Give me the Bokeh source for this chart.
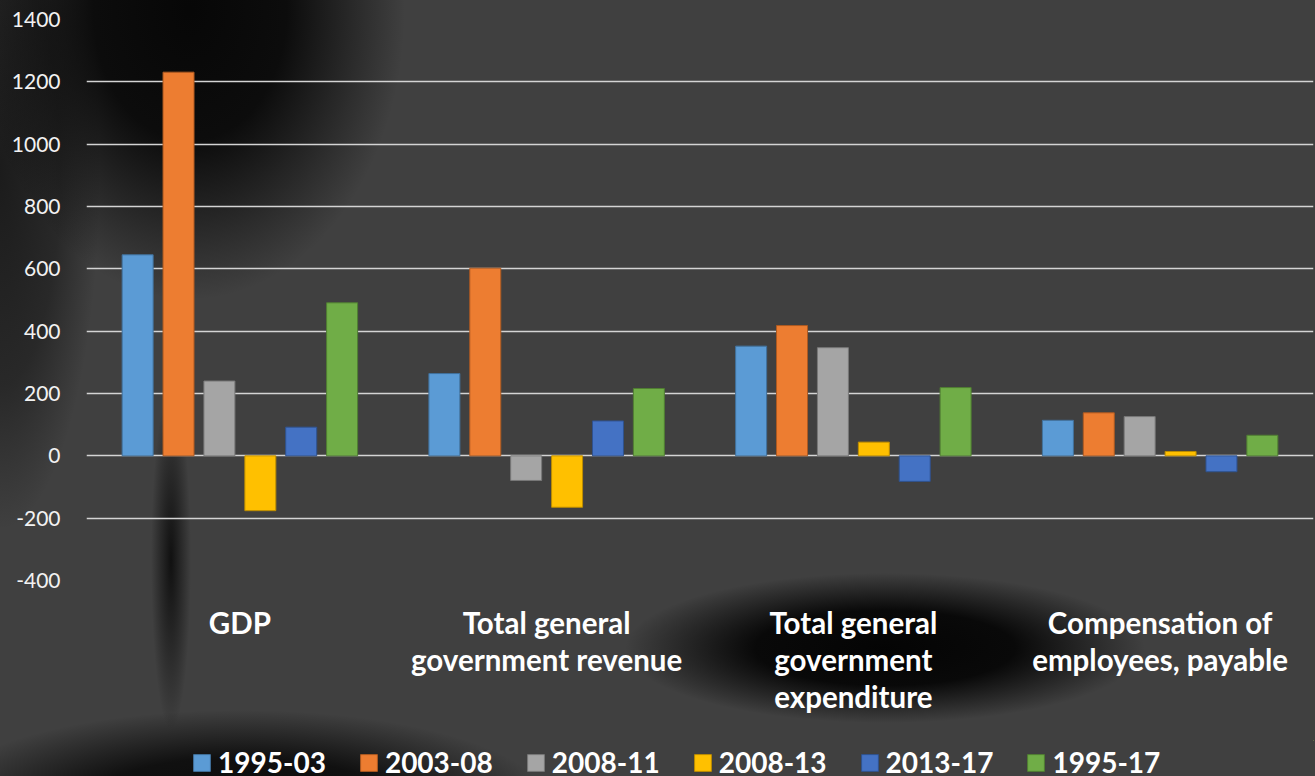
from bokeh.plotting import figure
from bokeh.layouts import column
from bokeh.models import FactorRange, Range1d, FixedTicker, ColumnDataSource, Legend, LegendItem, NumeralTickFormatter
from bokeh.transform import dodge
from bokeh.embed import file_html
from bokeh.resources import INLINE

# Categories on the x axis (wrapped the way they are printed under each group)
categories = [
    "GDP",
    "Total general\ngovernment revenue",
    "Total general\ngovernment\nexpenditure",
    "Compensation of\nemployees, payable",
]

# Periods (one bar per period in every group)
periods = ["1995-03", "2003-08", "2008-11", "2008-13", "2013-17", "1995-17"]

# Change over each period, per category
v_1995_03 = [645, 264, 352, 114]
v_2003_08 = [1231, 602, 418, 138]
v_2008_11 = [240, -79, 347, 126]
v_2008_13 = [-176, -165, 44, 14]
v_2013_17 = [92, 112, -82, -51]
v_1995_17 = [491, 216, 219, 66]

y_ticks = [-400, -200, 0, 200, 400, 600, 800, 1000, 1200, 1400]

series = [v_1995_03, v_2003_08, v_2008_11, v_2008_13, v_2013_17, v_1995_17]
fills = ["#5B9BD5", "#ED7D31", "#A5A5A5", "#FFC000", "#4472C4", "#70AD47"]
edges = ["#41719C", "#AE5A21", "#787878", "#BC8C00", "#2F528F", "#507E32"]

data = {"cat": categories}
for name, vals in zip(periods, series):
    data[name] = vals
source = ColumnDataSource(data)

# soft dark shapes behind the chart
backdrop = ", ".join([
    "radial-gradient(ellipse 215px 290px at 190px 10px, rgba(5,5,5,0.97) 0%, rgba(5,5,5,0.88) 45%, rgba(5,5,5,0) 100%)",
    "radial-gradient(ellipse 100px 360px at 0px 170px, rgba(12,12,12,0.7) 0%, rgba(12,12,12,0.45) 60%, rgba(12,12,12,0) 100%)",
    "radial-gradient(ellipse 20px 170px at 171px 560px, rgba(8,8,8,0.85) 0%, rgba(8,8,8,0) 100%)",
    "radial-gradient(ellipse 260px 75px at 885px 648px, rgba(3,3,3,0.98) 0%, rgba(3,3,3,0.9) 50%, rgba(3,3,3,0) 100%)",
    "radial-gradient(ellipse 310px 95px at 240px 805px, rgba(8,8,8,0.95) 0%, rgba(8,8,8,0.85) 50%, rgba(8,8,8,0) 100%)",
    "#404040",
])

p = figure(
    width=1315, height=740,
    x_range=FactorRange(*categories, range_padding=0),
    y_range=Range1d(-400, 1400),
    output_backend="svg", toolbar_location=None, tools="",
    min_border_left=86, min_border_right=2, min_border_top=19, min_border_bottom=160,
)
p.border_fill_color = None
p.background_fill_color = None
p.outline_line_color = None

offsets = [-0.3333, -0.2, -0.0667, 0.0667, 0.2, 0.3333]
for name, off, fc, ec in zip(periods, offsets, fills, edges):
    p.vbar(x=dodge("cat", off, range=p.x_range), top=name, bottom=0, width=0.101,
           source=source, fill_color=fc, line_color=ec, line_width=1)

# gridlines
p.xgrid.grid_line_color = None
p.ygrid.grid_line_color = "#d4d4d4"
p.ygrid.grid_line_width = 1.6
p.ygrid.level = "underlay"

# y axis
p.yaxis.ticker = FixedTicker(ticks=y_ticks)
p.yaxis.formatter = NumeralTickFormatter(format="0")
p.yaxis.axis_line_color = None
p.yaxis.major_tick_line_color = None
p.yaxis.minor_tick_line_color = None
p.yaxis.major_label_standoff = 20
p.yaxis.major_label_text_font = "Lato"
p.yaxis.major_label_text_font_size = "21px"
p.yaxis.major_label_text_color = "#f2f2f2"

# x axis
p.xaxis.axis_line_color = None
p.xaxis.major_tick_line_color = None
p.xaxis.minor_tick_line_color = None
p.xaxis.major_label_standoff = 18
p.xaxis.major_label_text_font = "Lato"
p.xaxis.major_label_text_font_style = "bold"
p.xaxis.major_label_text_font_size = "29.5px"
p.xaxis.major_label_text_color = "#ffffff"
p.xaxis.major_label_text_line_height = 1.07

# legend strip under the chart (its swatch renderers sit outside the visible range)
lg = figure(
    width=1315, height=36, x_range=Range1d(0, 1), y_range=Range1d(0, 1),
    x_axis_type=None, y_axis_type=None,
    output_backend="svg", toolbar_location=None, tools="",
    min_border=0,
)
lg.border_fill_color = None
lg.background_fill_color = None
lg.outline_line_color = None
lg.grid.visible = False

items = []
for name, fc, ec in zip(periods, fills, edges):
    r = lg.vbar(x=[5], top=[6], bottom=[5], width=0.1, fill_color=fc, line_color=ec, line_width=1)
    items.append(LegendItem(label=name, renderers=[r]))

legend = Legend(items=items, orientation="horizontal", location=(105, -3))
legend.background_fill_color = None
legend.border_line_color = None
legend.padding = 0
legend.margin = 0
legend.glyph_width = 21
legend.glyph_height = 21
legend.label_standoff = 6
legend.label_width = 105
legend.spacing = 32
legend.label_text_font = "Lato"
legend.label_text_font_style = "bold"
legend.label_text_font_size = "28px"
legend.label_text_color = "#ffffff"
lg.add_layout(legend, "center")

page = column(p, lg, spacing=0)
page.styles = {"background": backdrop}

open("out.html", "w").write(file_html(page, INLINE))
